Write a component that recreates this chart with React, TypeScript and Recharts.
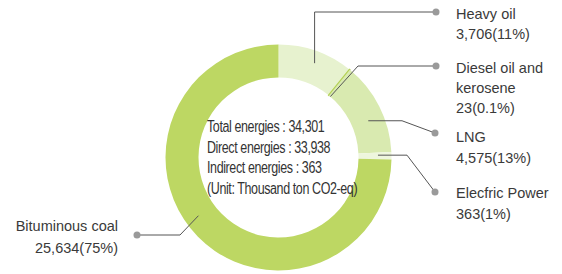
import { PieChart, Pie, Cell } from "recharts";

// emissions by energy source (thousand ton CO2-eq)
const SOURCES = ["Heavy oil", "Diesel oil and kerosene", "LNG", "Elecfric Power", "Bituminous coal"];
const EMISSIONS = [3706, 23, 4575, 363, 25634];
const VALUE_LABELS = ["3,706(11%)", "23(0.1%)", "4,575(13%)", "363(1%)", "25,634(75%)"];
const NAME_LINES = [["Heavy oil"], ["Diesel oil and", "kerosene"], ["LNG"], ["Elecfric Power"], ["Bituminous coal"]];
const SUMMARY = [
  "Total energies : 34,301",
  "Direct energies : 33,938",
  "Indirect energies : 363",
  "(Unit: Thousand ton CO2-eq)",
];

const COLORS = ["#e7f2cf", "#b4d155", "#d9eab0", "#eef6dd", "#bdd763"];

const data = SOURCES.map((name, i) => ({ name, value: EMISSIONS[i] }));

// leader line layout per slice
// r: radius where the line starts, da: angle nudge, elbow: fixed point (null = keep start coord)
const LAYOUT = [
  { r: 101, da: -1.5, ex: null, ey: 12, dot: [436, 12], tx: 456, ty: 19, anchor: "start", lh: 20 },
  { r: 80, da: -1.4, ex: 358, ey: 66, dot: [436, 66], tx: 456, ty: 73, anchor: "start", lh: 20 },
  { r: 97, da: -4.6, ex: 402, ey: null, dot: [435, 133], tx: 456, ty: 142, anchor: "start", lh: 21 },
  { r: 99.5, da: 0.4, ex: 407, ey: null, dot: [435, 192], tx: 456, ty: 198, anchor: "start", lh: 21 },
  { r: 99, da: -8.5, ex: 180, ey: 235, dot: [137, 235], tx: 118, ty: 231, anchor: "end", lh: 22 },
];

const RAD = Math.PI / 180;

const renderLabel = (props: any) => {
  const { cx, cy, midAngle, index } = props;
  const lay = LAYOUT[index];
  const a = (midAngle + lay.da) * RAD;
  const sx = cx + lay.r * Math.cos(a);
  const sy = cy - lay.r * Math.sin(a);
  const ex = lay.ex == null ? sx : lay.ex;
  const ey = lay.ey == null ? sy : lay.ey;
  const lines = [...NAME_LINES[index], VALUE_LABELS[index]];
  return (
    <g key={`lbl-${index}`}>
      <polyline
        points={`${sx},${sy} ${ex},${ey} ${lay.dot[0]},${lay.dot[1]}`}
        fill="none"
        stroke="#555"
        strokeWidth={1}
      />
      <circle cx={lay.dot[0]} cy={lay.dot[1]} r={3.5} fill="#9a9a9a" />
      <text
        x={lay.tx}
        y={lay.ty}
        textAnchor={lay.anchor}
        fill="#3a3a3a"
        fontSize={14.5}
        fontFamily="'Liberation Sans', Arial, sans-serif"
      >
        {lines.map((t, i) => (
          <tspan key={i} x={lay.tx} y={lay.ty + i * lay.lh}>
            {t}
          </tspan>
        ))}
      </text>
    </g>
  );
};

export default function App() {
  return (
    <div style={{ position: "relative", width: 562, height: 274, background: "#fff" }}>
      <style>{"body{margin:0}"}</style>
      <PieChart width={562} height={274} margin={{ top: 0, right: 0, bottom: 0, left: 0 }}>
        <Pie
          data={data}
          dataKey="value"
          cx={278.5}
          cy={157.5}
          innerRadius={80}
          outerRadius={113}
          startAngle={90}
          endAngle={-270}
          stroke="none"
          label={renderLabel}
          labelLine={false}
          isAnimationActive={false}
        >
          {data.map((_d, i) => (
            <Cell
              key={`cell-${i}`}
              fill={COLORS[i]}
              stroke={i === 1 ? COLORS[i] : "none"}
              strokeWidth={i === 1 ? 1.5 : 0}
            />
          ))}
        </Pie>
      </PieChart>
      <div
        style={{
          position: "absolute",
          left: 207,
          top: 117,
          fontFamily: "'Liberation Sans', Arial, sans-serif",
          fontSize: 16,
          lineHeight: "20.5px",
          color: "#333",
          whiteSpace: "nowrap",
          letterSpacing: -0.5,
          transform: "scaleX(0.78)",
          transformOrigin: "0 0",
        }}
      >
        {SUMMARY.map((s, i) => (
          <div key={i}>{s}</div>
        ))}
      </div>
    </div>
  );
}
